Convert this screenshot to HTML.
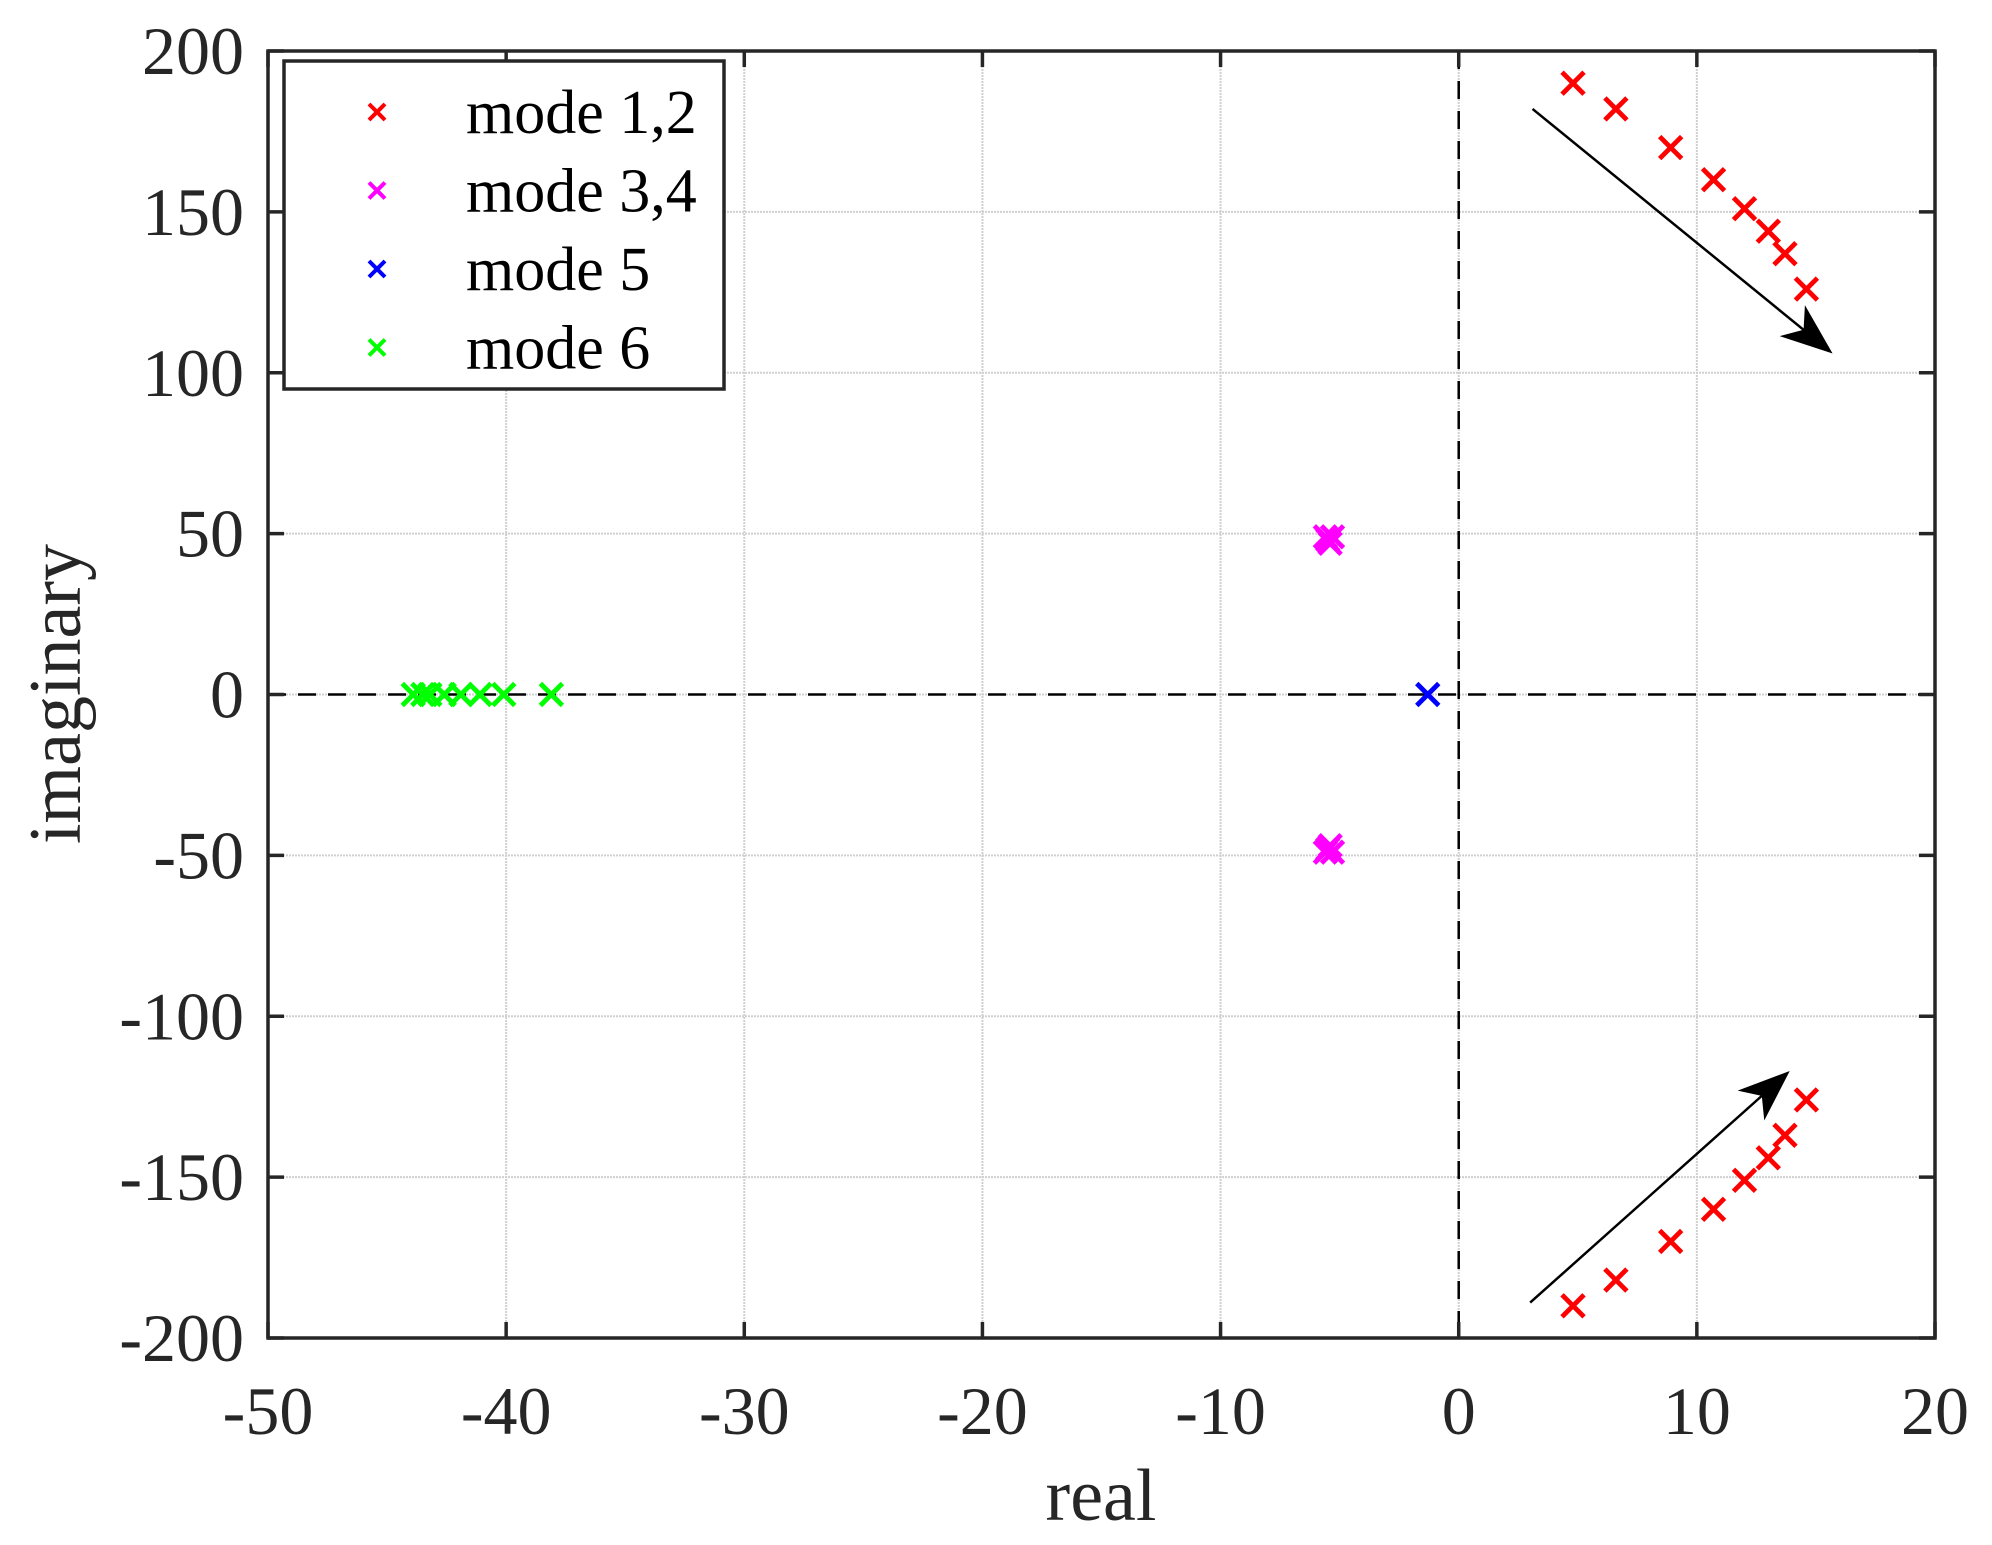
<!DOCTYPE html>
<html><head><meta charset="utf-8"><style>
html,body{margin:0;padding:0;background:#fff}
svg{display:block}
text{font-family:"Liberation Serif",serif;fill:#262626}
</style></head><body>
<svg id="chart" width="1992" height="1545" viewBox="0 0 1992 1545" xmlns="http://www.w3.org/2000/svg">
<g id="grid"></g>
<g id="zero-lines"></g>
<g id="arrows"></g>
<g id="marks"></g>
<g id="axes"></g>
<g id="legend"></g>
</svg>
<script>
const xTicks=[-50,-40,-30,-20,-10,0,10,20];
const yTicks=[-200,-150,-100,-50,0,50,100,150,200];
const mode12X=[4.8,6.6,8.9,10.7,12.0,13.0,13.7,14.6,4.8,6.6,8.9,10.7,12.0,13.0,13.7,14.6];
const mode12Y=[190,182,170,160,151,144,137,126,-190,-182,-170,-160,-151,-144,-137,-126];
const mode34X=[-5.6,-5.5,-5.4,-5.3,-5.6,-5.5,-5.4,-5.3];
const mode34Y=[49,48,47,49,-49,-48,-47,-49];
const mode5X=[-1.3];
const mode5Y=[0];
const mode6X=[-43.9,-43.5,-43.2,-42.6,-41.9,-41.1,-40.1,-38.1];
const mode6Y=[0,0,0,0,0,0,0,0];
const arrowStart=[[3.1,182],[3.0,-189]];
const arrowEnd=[[15.7,106],[13.9,-117]];
const legendLabels=["mode 1,2","mode 3,4","mode 5","mode 6"];
const legendColors=["#ff0000","#ff00ff","#0000ff","#00ff00"];

const L=268,R=1935,T=51,B=1338;
const xMin=-50,xMax=20,yMin=-200,yMax=200;
const sx=v=>L+(v-xMin)/(xMax-xMin)*(R-L);
const sy=v=>B-(v-yMin)/(yMax-yMin)*(B-T);
const NS="http://www.w3.org/2000/svg";
function mk(tag,attrs,parent){const e=document.createElementNS(NS,tag);for(const k in attrs)e.setAttribute(k,attrs[k]);parent.appendChild(e);return e;}
const grid=document.getElementById('grid'),zl=document.getElementById('zero-lines'),ar=document.getElementById('arrows'),mk_=document.getElementById('marks'),ax=document.getElementById('axes'),lg=document.getElementById('legend');

xTicks.forEach(t=>{const l=mk('line',{x1:sx(t),x2:sx(t),y1:T,y2:B,stroke:'#d0d0d0','stroke-width':2,'stroke-dasharray':'2,1'},grid);

});
yTicks.forEach(t=>{const l=mk('line',{x1:L,x2:R,y1:sy(t),y2:sy(t),stroke:'#d0d0d0','stroke-width':2,'stroke-dasharray':'2,1'},grid);

});

const zx=mk('line',{x1:sx(0),x2:sx(0),y1:T,y2:B,stroke:'#000','stroke-width':2.5,'stroke-dasharray':'18,12'},zl);


const zy=mk('line',{x1:L,x2:R,y1:sy(0),y2:sy(0),stroke:'#000','stroke-width':2.5,'stroke-dasharray':'18,12'},zl);



function arrow(a,b){const x1=sx(a[0]),y1=sy(a[1]),x2=sx(b[0]),y2=sy(b[1]);
const ang=Math.atan2(y2-y1,x2-x1),len=52,w=20;
const bx=x2-len*Math.cos(ang),by=y2-len*Math.sin(ang);
const nx=-Math.sin(ang),ny=Math.cos(ang);
const ix=x2-len*0.72*Math.cos(ang),iy=y2-len*0.72*Math.sin(ang);
const line=mk('line',{x1:x1,y1:y1,x2:ix,y2:iy,stroke:'#000','stroke-width':2.5},ar);


const head=mk('polygon',{points:`${x2},${y2} ${bx+nx*w},${by+ny*w} ${ix},${iy} ${bx-nx*w},${by-ny*w}`,fill:'#000'},ar);

}
arrowStart.forEach((s,i)=>arrow(s,arrowEnd[i]));

function cross(cx,cy,h,color,sw,parent,name){const g=mk('g',{stroke:color,'stroke-width':sw},parent);


mk('line',{x1:cx-h,y1:cy-h,x2:cx+h,y2:cy+h},g);mk('line',{x1:cx-h,y1:cy+h,x2:cx+h,y2:cy-h},g);}
[[mode12X,mode12Y,0,'mode12-pole'],[mode34X,mode34Y,1,'mode34-pole'],[mode5X,mode5Y,2,'mode5-pole'],[mode6X,mode6Y,3,'mode6-pole']].forEach(s=>{
s[0].forEach((x,i)=>cross(sx(x),sy(s[1][i]),11,legendColors[s[2]],4.8,mk_,s[3]));});

const frame=mk('rect',{x:L,y:T,width:R-L,height:B-T,fill:'none',stroke:'#262626','stroke-width':3.5},ax);


xTicks.forEach(t=>{mk('line',{x1:sx(t),x2:sx(t),y1:B,y2:B-16,stroke:'#262626','stroke-width':3.5},ax);mk('line',{x1:sx(t),x2:sx(t),y1:T,y2:T+16,stroke:'#262626','stroke-width':3.5},ax);
const tx=mk('text',{x:sx(t),y:1434,'font-size':68,'text-anchor':'middle'},ax);tx.textContent=t;

});
yTicks.forEach(t=>{mk('line',{x1:L,x2:L+16,y1:sy(t),y2:sy(t),stroke:'#262626','stroke-width':3.5},ax);mk('line',{x1:R,x2:R-16,y1:sy(t),y2:sy(t),stroke:'#262626','stroke-width':3.5},ax);
const tx=mk('text',{x:244,y:sy(t)+23,'font-size':68,'text-anchor':'end'},ax);tx.textContent=t;

});
const xt=mk('text',{x:1101,y:1520,'font-size':74,'text-anchor':'middle'},ax);xt.textContent='real';


const yt=mk('text',{x:0,y:0,'font-size':74,'text-anchor':'middle',transform:'translate(80,694) rotate(-90)'},ax);yt.textContent='imaginary';



const box=mk('rect',{x:284,y:61,width:440,height:328,fill:'#fff',stroke:'#262626','stroke-width':3.5},lg);


legendLabels.forEach((lab,i)=>{const y=112+i*78.5;
cross(377,y,8,legendColors[i],4,lg,'legend-marker');
const tx=mk('text',{x:466,y:y+21,'font-size':62},lg);tx.textContent=lab;tx.style.fill='#000';

});
</script>
</body></html>
